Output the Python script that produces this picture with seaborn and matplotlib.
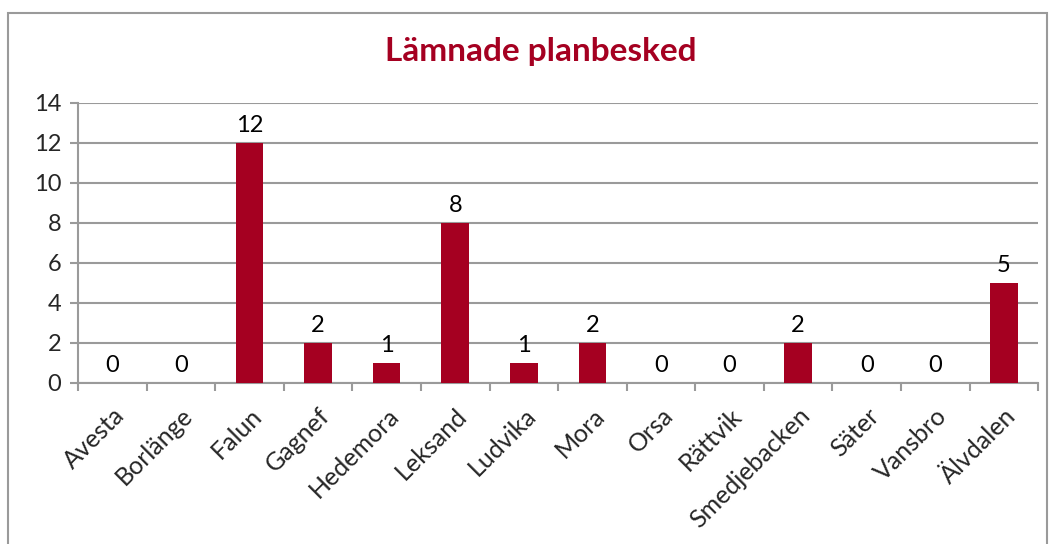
import numpy as np
import pandas as pd
import seaborn as sns
import matplotlib.pyplot as plt
from matplotlib.patches import Rectangle

kommuner = ["Avesta", "Borlänge", "Falun", "Gagnef", "Hedemora", "Leksand",
            "Ludvika", "Mora", "Orsa", "Rättvik", "Smedjebacken", "Säter",
            "Vansbro", "Älvdalen"]
planbesked = [0, 0, 12, 2, 1, 8, 1, 2, 0, 0, 2, 0, 0, 5]

bar_color = "#A50021"
grid_color = "#9A9A9A"

sns.set_theme(style="white")
plt.rcParams['font.family'] = ['Lato', 'DejaVu Sans']

data = pd.DataFrame({"kommun": kommuner, "antal": planbesked})

fig = plt.figure(figsize=(10.54, 5.44), dpi=100)
ax = fig.add_axes([0.074, 0.296, 0.911, 0.515])

sns.barplot(data=data, x="kommun", y="antal", color=bar_color,
            width=0.4, saturation=1, linewidth=0, ax=ax, zorder=3)

ax.set_ylim(0, 14)
ax.set_yticks(range(0, 15, 2))
ax.set_xlim(-0.5, len(kommuner) - 0.5)
ax.yaxis.grid(True, color=grid_color, linewidth=1.5, zorder=0)
ax.set_axisbelow(True)

# bar value labels
for i, v in enumerate(planbesked):
    ax.annotate(str(v), (i, v), xytext=(0, 5), textcoords="offset points",
                ha="center", va="bottom", fontsize=17, color="black")

ax.set_xlabel("")
ax.set_ylabel("")
ax.set_xticks(range(len(kommuner)))
ax.set_xticklabels(kommuner, rotation=45, ha="right", rotation_mode="anchor",
                   fontsize=18)
ax.tick_params(axis="x", length=0, pad=15)
ax.tick_params(axis="y", labelsize=17, length=6, width=1.5, color=grid_color,
               left=True, pad=6)
# minor ticks between categories
ax.set_xticks(np.arange(-0.5, len(kommuner), 1), minor=True)
ax.tick_params(axis="x", which="minor", length=6, width=1.5,
               color=grid_color, bottom=True)

for side in ["top", "right"]:
    ax.spines[side].set_visible(False)
for side in ["left", "bottom"]:
    ax.spines[side].set_color(grid_color)
    ax.spines[side].set_linewidth(1.5)

fig.text(0.513, 0.905, "Lämnade planbesked", ha="center", va="center",
         fontsize=24, fontweight="bold", color=bar_color)

# outer chart frame
fig.patches.append(Rectangle((0.008, -0.05), 0.985, 1.026, transform=fig.transFigure,
                             fill=False, edgecolor=grid_color, linewidth=1.5))

fig.savefig("out.png", dpi=100)
